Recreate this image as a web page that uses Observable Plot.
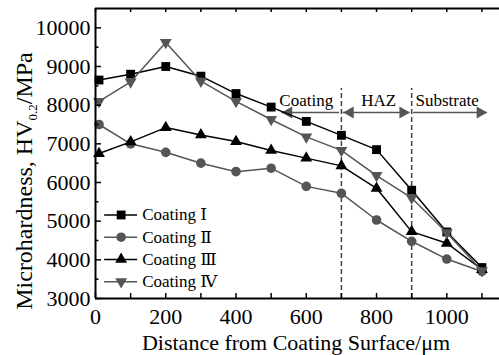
<!DOCTYPE html>
<html><head><meta charset="utf-8">
<script src="https://cdn.jsdelivr.net/npm/d3@7"></script>
<script src="https://cdn.jsdelivr.net/npm/@observablehq/plot@0.6"></script>
<style>body{margin:0;background:#fff;} svg{display:block;}</style>
</head><body><div id="chart"></div>
<script>
// ---- data ----
const distances = [10, 100, 200, 300, 400, 500, 600, 700, 800, 900, 1000, 1100];
const coatingI   = [8650, 8800, 9000, 8750, 8300, 7950, 7580, 7220, 6850, 5800, 4720, 3800];
const coatingII  = [7500, 7000, 6780, 6500, 6280, 6370, 5900, 5720, 5030, 4480, 4020, 3700];
const coatingIII = [6750, 7050, 7420, 7230, 7060, 6830, 6630, 6430, 5850, 4730, 4430, 3750];
const coatingIV  = [8100, 8600, 9620, 8620, 8100, 7630, 7180, 6830, 6180, 5600, 4700, 3720];
const seriesNames = ["Coating \u2160", "Coating \u2161", "Coating \u2162", "Coating \u2163"];
const xTickLabels = [0, 200, 400, 600, 800, 1000];
const yTickLabels = [3000, 4000, 5000, 6000, 7000, 8000, 9000, 10000];
const zoneBoundaries = [700, 900];
const zoneNames = ["Coating", "HAZ", "Substrate"];
const zoneArrowStart = [695, 705, 905];
const zoneArrowEnd = [530, 895, 1115];
const zoneLabelAt = [600, 806, 1001];

// ---- styles ----
const seriesValues = [coatingI, coatingII, coatingIII, coatingIV];
const colors = ["#000000", "#555555", "#000000", "#555555"];
const symbols = ["square", "circle", "triangle", "triangle"];
const rotations = [0, 0, 0, 180];
const radii = [5, 4.8, 4.4, 4.4];
const serif = "'Liberation Serif','Times New Roman','DejaVu Serif',serif";
const arrowColor = "#555555";

const xDomain = [0, 1150], yDomain = [3000, 10500];
const xMinor = d3.range(0, 1101, 100);
const yMinor = d3.range(3000, 10001, 500).filter(v => v % 1000 !== 0);

const marks = [];
// dashed zone boundaries
marks.push(Plot.ruleX(zoneBoundaries, {y1: yDomain[0], y2: 8430, stroke: "#444", strokeWidth: 1.5, strokeDasharray: "5,3"}));

// zone arrows
const zones = zoneNames.map((name, i) => ({name, from: zoneArrowStart[i], to: zoneArrowEnd[i], at: zoneLabelAt[i]}));
const arrowY = 7810, zoneTextY = 8120;
marks.push(Plot.ruleY(zones, {x1: "from", x2: "to", y: () => arrowY, stroke: arrowColor, strokeWidth: 1.6}));
const headsLeft = zones.filter(z => z.to < z.from);
const headsRight = zones.filter(z => z.to > z.from);
marks.push(Plot.dot(headsLeft, {x: "to", y: () => arrowY, symbol: "triangle", rotate: -90, r: 4.5, fill: arrowColor, dx: 7}));
marks.push(Plot.dot(headsRight, {x: "to", y: () => arrowY, symbol: "triangle", rotate: 90, r: 4.5, fill: arrowColor, dx: -7}));
const doubleHeads = zones.filter(z => z.name === "HAZ");
marks.push(Plot.dot(doubleHeads, {x: "from", y: () => arrowY, symbol: "triangle", rotate: -90, r: 4.5, fill: arrowColor, dx: 7}));
marks.push(Plot.text(zones, {x: "at", y: () => zoneTextY, text: "name", fontSize: 17, fill: "#000", fontFamily: serif}));

// series
seriesValues.forEach((vals, s) => {
  const rows = distances.map((d, i) => ({x: d, y: vals[i]}));
  marks.push(Plot.line(rows, {x: "x", y: "y", stroke: colors[s], strokeWidth: 1.5}));
  marks.push(Plot.dot(rows, {x: "x", y: "y", symbol: symbols[s], fill: colors[s], stroke: "none", r: radii[s], rotate: rotations[s]}));
});

// legend (inside plot, lower-left)
const legendRows = seriesNames.map((name, i) => ({name, i, y: 5160 - 575 * i}));
legendRows.forEach(row => {
  const s = row.i;
  marks.push(Plot.ruleY([row], {x1: () => 26, x2: () => 120, y: "y", stroke: colors[s], strokeWidth: 1.5}));
  marks.push(Plot.dot([row], {x: () => 73, y: "y", symbol: symbols[s], fill: colors[s], r: radii[s], rotate: rotations[s]}));
  marks.push(Plot.text([row], {x: () => 133, y: "y", text: "name", textAnchor: "start", fontSize: 17, fill: "#000", fontFamily: serif}));
});

// frame lines (left, bottom, top)
marks.push(Plot.ruleX([xDomain[0]], {stroke: "#000", strokeWidth: 2}));
marks.push(Plot.ruleY([yDomain[0], yDomain[1]], {stroke: "#000", strokeWidth: 2}));

// ticks (inward)
marks.push(Plot.axisX(xMinor, {tickSize: -5, tickFormat: () => "", label: null, strokeWidth: 1.5}));
marks.push(Plot.axisX(xMinor, {anchor: "top", tickSize: -3, tickFormat: () => "", label: null, strokeWidth: 1.5}));
marks.push(Plot.axisY(yTickLabels, {tickSize: -6, tickFormat: () => "", label: null, strokeWidth: 1.5}));
marks.push(Plot.axisY(yMinor, {tickSize: -3.5, tickFormat: () => "", label: null, strokeWidth: 1.5}));
// tick labels
marks.push(Plot.axisX(xTickLabels, {tickSize: 0, tickPadding: 10, fontSize: 22, label: null, fill: "#000", tickFormat: d => String(d)}));
marks.push(Plot.axisY(yTickLabels, {tickSize: 0, tickPadding: 5, fontSize: 22, label: null, fill: "#000", tickFormat: d => String(d)}));

const plot = Plot.plot({
  width: 499, height: 355,
  marginLeft: 95, marginRight: 0, marginTop: 8, marginBottom: 57,
  x: {domain: xDomain},
  y: {domain: yDomain},
  style: {fontFamily: serif, fontSize: "22px", background: "#fff", color: "#000", overflow: "visible"},
  marks
});

// axis titles (real text, with subscript)
const svg = d3.select(plot);
svg.append("text")
  .attr("x", 296).attr("y", 349.5)
  .attr("text-anchor", "middle")
  .attr("font-family", serif).attr("font-size", 22).attr("fill", "#000")
  .text("Distance from Coating Surface/\u03bcm");
const yt = svg.append("text")
  .attr("transform", "translate(31.5,181) rotate(-90)")
  .attr("text-anchor", "middle")
  .attr("font-family", serif).attr("font-size", 24).attr("fill", "#000");
yt.append("tspan").text("Microhardness, HV");
yt.append("tspan").attr("font-size", 13).attr("dy", 5.5).text("0.2");
yt.append("tspan").attr("dy", -5.5).text("/MPa");

document.getElementById("chart").appendChild(plot);
</script>
</body></html>
